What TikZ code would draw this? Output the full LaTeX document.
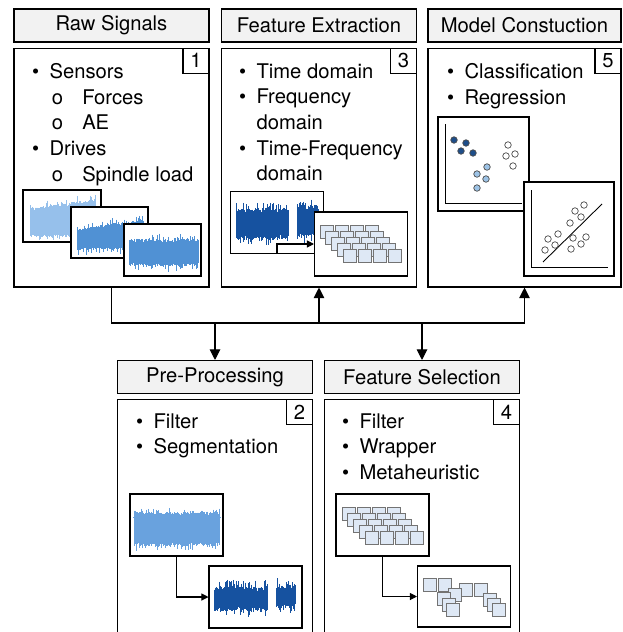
\documentclass[tikz,border=0pt]{standalone}
\usepackage{fontspec}
\setmainfont{TeX Gyre Heros}
\usetikzlibrary{positioning,arrows.meta}
\definecolor{titlegray}{RGB}{242,242,242}
\definecolor{sigPale}{RGB}{150,192,235}
\definecolor{sigLight}{RGB}{105,162,222}
\definecolor{sigMid}{RGB}{80,145,212}
\definecolor{sigDark}{RGB}{22,82,160}
\definecolor{cubefill}{RGB}{222,232,245}
\definecolor{dotDark}{RGB}{30,78,137}
\definecolor{dotLight}{RGB}{157,195,230}

\newcommand{\itm}[1]{\makebox[10pt][l]{\textbullet}#1}
\newcommand{\subitm}[1]{\hspace*{11.3pt}\makebox[17.3pt][l]{o}#1}
% signal trace: x0, x1, top left, top right, bottom, colour, jitter
\newcommand{\sigwave}[7]{%
  \foreach \k in {0,...,120}{%
    \pgfmathsetmacro\xx{#1+(#2-#1)*\k/120}
    \pgfmathsetmacro\yt{#3+(#4-#3)*\k/120+#7*(rnd-2.2*rnd^7)}
    \pgfmathsetmacro\yb{#5-#7*(rnd-2.2*rnd^7)}
    \draw[#6,line width=0.4pt] (\xx,\yt) -- (\xx,\yb);
  }}
% stacked feature cubes
\newcommand{\featgrid}[2]{%
  \foreach \r in {0,...,4}{\foreach \c in {0,...,3}{%
    \filldraw[fill=cubefill,draw=black!55,line width=0.4pt]
      ({#1+5.75*\r+15*\c},{#2+6*\r}) rectangle ++(13,13);}}}

\begin{document}
\begin{tikzpicture}[x=0.02cm,y=-0.02cm,line width=0.6pt,
    titlebox/.style={draw,fill=titlegray,minimum width=3.9cm,minimum height=0.66cm,
      inner sep=0pt,font=\fontsize{11.5}{14}\selectfont},
    bodybox/.style={draw,minimum width=3.9cm,minimum height=4.78cm,inner sep=0pt},
    numbox/.style={draw,fill=white,minimum width=0.52cm,minimum height=0.5cm,
      inner sep=0pt,anchor=north east,font=\fontsize{11.5}{14}\selectfont},
    listtext/.style={anchor=north west,inner sep=0pt,align=left,
      font=\fontsize{11.5}{14.6}\selectfont},
    imgbox/.style={draw,fill=white,inner sep=0pt},
    sigframe/.style={imgbox,minimum width=1.86cm,minimum height=1.24cm},
    flow/.style={-{Triangle[length=6pt,width=6pt]}},
    smallflow/.style={-{Triangle[length=4pt,width=4pt]}}
  ]
  \useasboundingbox (0,0) rectangle (622,632);
  \clip (0,0) rectangle (622,632);
  \pgfmathsetseed{11}

  % top row
  \node[titlebox] (rawT)   at (111.5,25.5) {Raw Signals};
  \node[titlebox] (featT)  at (319,25.5)   {Feature Extraction};
  \node[titlebox,minimum width=3.86cm] (modelT) at (524.5,25.5) {Model Constuction};
  \node[bodybox,below=0.1cm of rawT]   (rawB)   {};
  \node[bodybox,below=0.1cm of featT]  (featB)  {};
  \node[bodybox,minimum width=3.86cm,below=0.1cm of modelT] (modelB) {};
  \node[numbox] (rawN)   at (rawB.north east)   {1};
  \node[numbox] (featN)  at (featB.north east)  {3};
  \node[numbox] (modelN) at (modelB.north east) {5};

  % bottom row
  \node[titlebox] (preT) at (215,377) {Pre-Processing};
  \node[titlebox] (selT) at (422,377) {Feature Selection};
  \node[bodybox,minimum height=5cm,below=0.1cm of preT] (preB) {};
  \node[bodybox,minimum height=5cm,below=0.1cm of selT] (selB) {};
  \node[numbox] (preN) at (preB.north east) {2};
  \node[numbox] (selN) at (selB.north east) {4};

  % lists
  \node[listtext] (rawList) at (31.5,63)
    {\itm{Sensors}\\\subitm{Forces}\\\subitm{AE}\\\itm{Drives}\\\subitm{Spindle load}};
  \node[listtext] (featList) at (238.5,63)
    {\itm{Time domain}\\\itm{Frequency}\\\hspace*{10pt}domain\\\itm{Time-Frequency}\\\hspace*{10pt}domain};
  \node[listtext] (modelList) at (446.5,63) {\itm{Classification}\\\itm{Regression}};
  \node[listtext] (preList) at (135.5,413) {\itm{Filter}\\\itm{Segmentation}};
  \node[listtext] (selList) at (341.5,413) {\itm{Filter}\\\itm{Wrapper}\\\itm{Metaheuristic}};

  % raw signal pictures
  \node[imgbox,minimum width=1.56cm,minimum height=1.04cm] (rawImgA) at (62,216) {};
  \sigwave{30}{95}{208}{199}{237}{sigPale}{3}
  \node[imgbox,minimum width=1.54cm,minimum height=1.02cm] (rawImgB) at (109.5,232.5) {};
  \sigwave{77}{143}{229}{219}{250}{sigMid}{3}
  \node[imgbox,minimum width=1.54cm,minimum height=1.04cm] (rawImgC) at (162.5,250) {};
  \sigwave{129}{198}{239}{239}{266}{sigMid}{3}

  % feature extraction pictures
  \node[sigframe] (featImgA) at (277,222.5) {};
  \sigwave{236}{288}{209}{209}{239}{sigDark}{4}
  \sigwave{297}{318}{207}{207}{235}{sigDark}{4}
  \node[sigframe,minimum height=1.28cm] (featImgB) at (361,244) {};
  \featgrid{320}{225}
  \draw[smallflow] (featImgA.south) |- (featImgB.west);

  % model pictures
  \node[imgbox,minimum width=1.82cm,minimum height=1.88cm] (modelImgA) at (483.5,164) {};
  \draw[line width=0.5pt] (445,124) -- (445,203) -- (522,203);
  \foreach \p in {(454,140),(466,143),(461,151),(473,153)}
    \filldraw[fill=dotDark,draw=black!70,line width=0.4pt] \p circle (0.065cm);
  \foreach \p in {(487,167),(477,174),(486,179),(477,188)}
    \filldraw[fill=dotLight,draw=black!70,line width=0.4pt] \p circle (0.065cm);
  \foreach \p in {(508,145),(506,156),(515,154),(513,166)}
    \filldraw[fill=white,draw=black!70,line width=0.4pt] \p circle (0.065cm);
  \node[imgbox,minimum width=1.8cm,minimum height=1.88cm] (modelImgB) at (569,229) {};
  \draw[line width=0.5pt] (531,190) -- (531,267) -- (608,267);
  \draw[line width=0.5pt] (543,262) -- (602,204);
  \foreach \p in {(545,250),(555,245),(548,239),(558,234),(570,223),(575,211),
                  (581,217),(584,205),(573,238),(571,249),(581,244),(586,237)}
    \filldraw[fill=white,draw=black!70,line width=0.4pt] \p circle (0.065cm);

  % pre-processing pictures
  \node[sigframe] (preImgA) at (176.5,525) {};
  \sigwave{134}{219}{512}{512}{546}{sigLight}{3}
  \draw[sigLight,line width=0.5pt] (133,517) -- (221,517);
  \node[sigframe] (preImgB) at (255.5,597) {};
  \sigwave{214}{267}{587}{587}{611}{sigDark}{4}
  \sigwave{276}{295}{587}{587}{605}{sigDark}{4}
  \draw[smallflow] (preImgA.south) |- (preImgB.west);

  % feature selection pictures
  \node[sigframe] (selImgA) at (382.5,525) {};
  \featgrid{342}{507}
  \node[sigframe,minimum height=1.22cm] (selImgB) at (464,596.5) {};
  \foreach \p in {(423,578),(438,578),(459,583),(474,583),(448,588),(437,592),
                  (442,598),(446,603),(483,593),(487,598),(492,603)}
    \filldraw[fill=cubefill,draw=black!55,line width=0.4pt] \p rectangle ++(13,13);
  \draw[smallflow] (selImgA.south) |- (selImgB.west);

  % connectors
  \coordinate (busL) at (rawB.south |- 0,323);
  \coordinate (busR) at (modelB.south |- 0,323);
  \draw (rawB.south) -- (busL) -- (busR);
  \draw[flow] (busR) -- (modelB.south);
  \draw[flow] (featB.south |- busL) -- (featB.south);
  \draw[flow] (preT.north |- busL) -- (preT.north);
  \draw[flow] (selT.north |- busL) -- (selT.north);
\end{tikzpicture}
\end{document}
